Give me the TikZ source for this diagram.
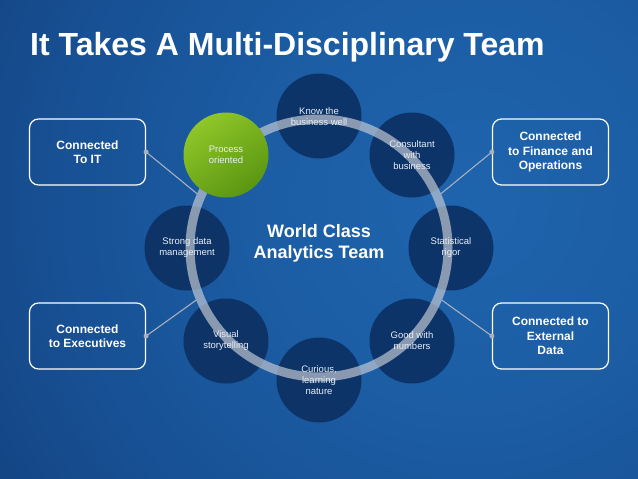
\documentclass[tikz,border=0pt]{standalone}
\usepackage{fontspec}
\setmainfont{Liberation Sans}
\usetikzlibrary{shadings}
\definecolor{bgA}{HTML}{1E64AD}
\definecolor{bgB}{HTML}{1C5EA5}
\definecolor{bgC}{HTML}{174F92}
\definecolor{bgD}{HTML}{103A76}
\definecolor{bgE}{HTML}{0B2A5C}
\definecolor{bgF}{HTML}{081F48}
\definecolor{darkcirc}{HTML}{0B2D5E}
\definecolor{ringgray}{HTML}{C4CAD4}
\definecolor{greenA}{HTML}{8FC628}
\definecolor{greenB}{HTML}{5A9612}
\definecolor{conngray}{HTML}{A8B0BE}
\definecolor{softwhite}{HTML}{E9EDF3}
\pgfdeclareradialshading{bgglow}{\pgfpoint{0bp}{0bp}}{color(0bp)=(bgA); color(8bp)=(bgB); color(18bp)=(bgC); color(28bp)=(bgD); color(38bp)=(bgE); color(50bp)=(bgF)}
\tikzset{
  dcirc/.style={circle, fill=darkcirc, fill opacity=0.85, minimum size=85pt, inner sep=0pt},
  gcirc/.style={circle, shading=axis, top color=greenA, bottom color=greenB, shading angle=35, minimum size=85pt, inner sep=0pt},
  ctext/.style={align=center, inner sep=0pt, text=softwhite, font=\fontsize{9.5}{11}\selectfont},
  sidebox/.style={draw=white, line width=1.2pt, rounded corners=9pt, minimum width=116pt, minimum height=66pt, inner sep=0pt, align=center, text=white, font=\fontsize{12}{14.5}\selectfont\bfseries},
  dotst/.style={circle, fill=conngray, minimum size=5pt, inner sep=0pt},
  conn/.style={draw=conngray, line width=1.1pt},
  ringst/.style={circle, draw=ringgray, draw opacity=0.68, line width=9pt, minimum size=258pt, inner sep=0pt}
}
\begin{document}
\begin{tikzpicture}[x=1pt,y=-1pt]
\useasboundingbox (0,0) rectangle (638,479);
% background
\fill[bgF] (0,0) rectangle (638,479);
\begin{scope}
  \clip (0,0) rectangle (638,479);
  \shade[shading=bgglow] (470,200) circle (600);
\end{scope}
% title
\node[anchor=base west, inner sep=0pt, text=white, font=\fontsize{32}{36}\selectfont\bfseries] (title) at (30,55) {It Takes A Multi-Disciplinary Team};
% dark circles
\node[dcirc] (c90)  at (319,116) {};
\node[dcirc] (c45)  at (412,155) {};
\node[dcirc] (c0)   at (451,248) {};
\node[dcirc] (c315) at (412,341) {};
\node[dcirc] (c270) at (319,380) {};
\node[dcirc] (c225) at (226,341) {};
\node[dcirc] (c180) at (187,248) {};
% boxes
\node[sidebox] (bIT)  at (87.5,152)  {Connected\\To IT};
\node[sidebox] (bFin) at (550.5,152) {Connected\\to Finance and\\Operations};
\node[sidebox] (bExe) at (87.5,336)  {Connected\\to Executives};
\node[sidebox] (bExt) at (550.5,336) {Connected to\\External\\Data};
% ring
\node[ringst] (ring) at (319,248) {};
% connectors
\node[dotst] (dIT)  at (bIT.east) {};
\node[dotst] (dFin) at (bFin.west) {};
\node[dotst] (dExe) at (bExe.east) {};
\node[dotst] (dExt) at (bExt.west) {};
\draw[conn] (dIT.center) -- (ring.156);
\draw[conn] (dExe.center) -- (ring.203);
\draw[conn] (dFin.center) -- (ring.24.5);
\draw[conn] (dExt.center) -- (ring.-23);
% green circle
\node[gcirc] (c135) at (226,155) {};
% circle texts
\node[ctext] (t90)  at ([yshift=-1pt]c90.center)  {Know the\\business well};
\node[ctext] (t45)  at (c45.center)  {Consultant\\with\\business};
\node[ctext] (t0)   at (c0.center)   {Statistical\\rigor};
\node[ctext] (t315) at (c315.center) {Good with\\numbers};
\node[ctext] (t270) at (c270.center) {Curious,\\learning\\nature};
\node[ctext] (t225) at (c225.center) {Visual\\storytelling};
\node[ctext] (t180) at (c180.center) {Strong data\\management};
\node[ctext] (t135) at (c135.center) {Process\\oriented};
% centre text
\node[align=center, text=white, font=\fontsize{18}{21}\selectfont\bfseries] (centre) at (319,243) {World Class\\Analytics Team};
\end{tikzpicture}
\end{document}
